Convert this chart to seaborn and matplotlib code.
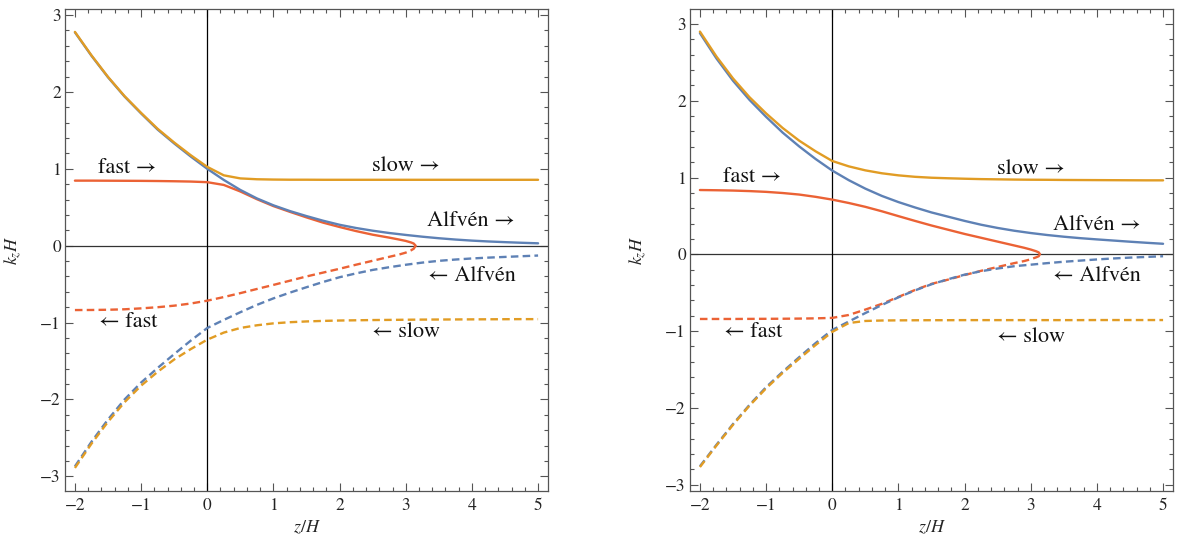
import matplotlib
matplotlib.use("Agg")
import matplotlib.pyplot as plt
import seaborn as sns
from matplotlib.ticker import MultipleLocator

# z/H grid used by the Alfven and slow branches
z_grid = [-2, -1.75, -1.5, -1.25, -1, -0.75, -0.5, -0.25, 0, 0.25, 0.5, 0.75, 1,
          1.25, 1.5, 1.75, 2, 2.25, 2.5, 2.75, 3, 3.25, 3.5, 3.75, 4, 4.25, 4.5, 4.75, 5]
# fast branch stops at the turning point
z_fast_L = [-2, -1.75, -1.5, -1.25, -1, -0.75, -0.5, -0.25, 0, 0.25, 0.5, 0.75, 1,
            1.25, 1.5, 1.75, 2, 2.25, 2.5, 2.75, 2.9, 3.0, 3.08, 3.12, 3.15]
z_fast_R = [-2, -1.75, -1.5, -1.25, -1, -0.75, -0.5, -0.25, 0, 0.25, 0.5, 0.75, 1,
            1.25, 1.5, 1.75, 2, 2.25, 2.5, 2.75, 2.9, 3.0, 3.08, 3.12, 3.14]

######## left panel ########
alf_up_L = [2.775, 2.47, 2.19, 1.94, 1.72, 1.51, 1.33, 1.16, 1.0, 0.855, 0.725, 0.615, 0.525,
            0.45, 0.385, 0.325, 0.272, 0.23, 0.195, 0.165, 0.14, 0.117, 0.097, 0.08, 0.066,
            0.055, 0.046, 0.038, 0.031]
slow_up_L = [2.78, 2.475, 2.195, 1.945, 1.727, 1.52, 1.342, 1.177, 1.025, 0.915, 0.875, 0.864,
             0.86, 0.858, 0.858, 0.857, 0.857, 0.857, 0.857, 0.857, 0.857, 0.857, 0.857, 0.857,
             0.857, 0.857, 0.857, 0.857, 0.857]
fast_up_L = [0.846, 0.846, 0.845, 0.844, 0.843, 0.841, 0.838, 0.834, 0.826, 0.79, 0.705, 0.605,
             0.515, 0.44, 0.368, 0.30, 0.243, 0.19, 0.143, 0.105, 0.08, 0.062, 0.042, 0.028, 0.0]
fast_dn_L = [-0.837, -0.836, -0.833, -0.827, -0.815, -0.80, -0.78, -0.752, -0.715, -0.668,
             -0.617, -0.563, -0.51, -0.455, -0.40, -0.35, -0.30, -0.247, -0.196, -0.145,
             -0.115, -0.09, -0.06, -0.04, 0.0]
alf_dn_L = [-2.87, -2.55, -2.26, -2.0, -1.78, -1.59, -1.41, -1.235, -1.07, -0.965, -0.865,
            -0.77, -0.685, -0.61, -0.54, -0.472, -0.41, -0.36, -0.315, -0.28, -0.248, -0.22,
            -0.197, -0.18, -0.166, -0.155, -0.146, -0.137, -0.128]
slow_dn_L = [-2.89, -2.575, -2.29, -2.035, -1.82, -1.64, -1.48, -1.345, -1.222, -1.13, -1.07,
             -1.035, -1.01, -0.995, -0.985, -0.978, -0.973, -0.97, -0.967, -0.965, -0.963,
             -0.961, -0.96, -0.959, -0.958, -0.957, -0.956, -0.955, -0.955]

######## right panel ########
alf_up_R = [2.88, 2.55, 2.26, 2.01, 1.79, 1.585, 1.405, 1.24, 1.09, 0.965, 0.855, 0.76, 0.68,
            0.61, 0.545, 0.49, 0.435, 0.385, 0.343, 0.307, 0.277, 0.251, 0.229, 0.21, 0.194,
            0.179, 0.164, 0.15, 0.137]
slow_up_R = [2.90, 2.575, 2.29, 2.045, 1.835, 1.645, 1.48, 1.34, 1.215, 1.145, 1.093, 1.055,
             1.028, 1.009, 0.997, 0.99, 0.984, 0.979, 0.976, 0.973, 0.971, 0.97, 0.968, 0.967,
             0.966, 0.965, 0.964, 0.963, 0.963]
fast_up_R = [0.837, 0.834, 0.83, 0.823, 0.813, 0.798, 0.778, 0.748, 0.712, 0.668, 0.618, 0.56,
             0.497, 0.435, 0.375, 0.32, 0.265, 0.215, 0.165, 0.115, 0.085, 0.062, 0.04, 0.025, 0.0]
fast_dn_R = [-0.842, -0.842, -0.842, -0.841, -0.84, -0.839, -0.837, -0.834, -0.828, -0.79,
             -0.72, -0.645, -0.555, -0.465, -0.385, -0.33, -0.27, -0.215, -0.165, -0.115,
             -0.088, -0.065, -0.04, -0.025, 0.0]
alf_dn_R = [-2.76, -2.48, -2.21, -1.96, -1.73, -1.53, -1.34, -1.155, -0.985, -0.875, -0.765,
            -0.66, -0.56, -0.47, -0.39, -0.325, -0.265, -0.22, -0.185, -0.155, -0.135, -0.115,
            -0.097, -0.082, -0.067, -0.054, -0.043, -0.034, -0.025]
slow_dn_R = [-2.77, -2.49, -2.22, -1.97, -1.745, -1.545, -1.36, -1.18, -1.01, -0.895, -0.868,
             -0.862, -0.86, -0.859, -0.858, -0.858, -0.857, -0.857, -0.857, -0.857, -0.857,
             -0.857, -0.857, -0.857, -0.856, -0.856, -0.856, -0.856, -0.856]

# label text and where it sits (z, k)
labels_L = [("fast →", -1.21, 1.01), ("slow →", 3.0, 1.03), ("Alfvén →", 3.98, 0.325),
            ("← Alfvén", 4.0, -0.39), ("← slow", 3.0, -1.125), ("← fast", -1.2, -1.0)]
labels_R = [("fast →", -1.21, 1.0), ("slow →", 3.0, 1.11), ("Alfvén →", 4.0, 0.38),
            ("← Alfvén", 4.0, -0.29), ("← slow", 3.0, -1.08), ("← fast", -1.2, -1.015)]

BLUE = "#5E81B5"
ORANGE = "#E19C24"
RED = "#EB6235"

sns.set_style("ticks")
plt.rcParams['font.family'] = ['STIXGeneral', 'Liberation Serif', 'DejaVu Serif']
plt.rcParams['mathtext.fontset'] = 'stix'

fig = plt.figure(figsize=(11.82, 5.43), dpi=100)
ax1 = fig.add_axes([65/1182, 52/543, 483/1182, 482/543])
ax2 = fig.add_axes([690/1182, 52/543, 483/1182, 482/543])


def panel(ax, zf, fu, fd, au, ad, su, sd, labels, ylim):
    ax.axhline(0, color='#333333', lw=0.9, zorder=1)
    ax.axvline(0, color='black', lw=0.9, zorder=1)
    dash = (0, (3.2, 1.8))
    curves = [(zf, fu, RED, '-'), (zf, fd, RED, dash),
              (z_grid, au, BLUE, '-'), (z_grid, ad, BLUE, dash),
              (z_grid, su, ORANGE, '-'), (z_grid, sd, ORANGE, dash)]
    for z, k, col, ls in curves:
        sns.lineplot(x=z, y=k, ax=ax, color=col, lw=1.7, linestyle=ls,
                     errorbar=None, zorder=3)
    for txt, x, y in labels:
        ax.text(x, y, txt, ha='center', va='center', fontsize=16, color='#111111')
    ax.set_xlim(-2.15, 5.15)
    ax.set_ylim(*ylim)
    ax.xaxis.set_major_locator(MultipleLocator(1))
    ax.xaxis.set_minor_locator(MultipleLocator(0.2))
    ax.yaxis.set_major_locator(MultipleLocator(1))
    ax.yaxis.set_minor_locator(MultipleLocator(0.2))
    ax.tick_params(which='both', direction='in', top=True, right=True,
                   color='#555555', width=0.8, labelsize=12.5, labelcolor='#222222')
    ax.tick_params(which='major', length=5.8)
    ax.tick_params(which='minor', length=3.1)
    ax.tick_params(axis='x', pad=5)
    ax.tick_params(axis='y', pad=3)
    for s in ax.spines.values():
        s.set_color('#555555')
        s.set_linewidth(0.9)
    ax.set_xlabel('$z/H$', fontsize=13)
    ax.set_ylabel('$k_z H$', fontsize=13)
    ax.xaxis.set_label_coords(0.5, -0.058)
    ax.yaxis.set_label_coords(-0.085, 0.5)


panel(ax1, z_fast_L, fast_up_L, fast_dn_L, alf_up_L, alf_dn_L, slow_up_L, slow_dn_L,
      labels_L, (-3.19, 3.078))
panel(ax2, z_fast_R, fast_up_R, fast_dn_R, alf_up_R, alf_dn_R, slow_up_R, slow_dn_R,
      labels_R, (-3.082, 3.194))

fig.savefig("out.png", dpi=100)
